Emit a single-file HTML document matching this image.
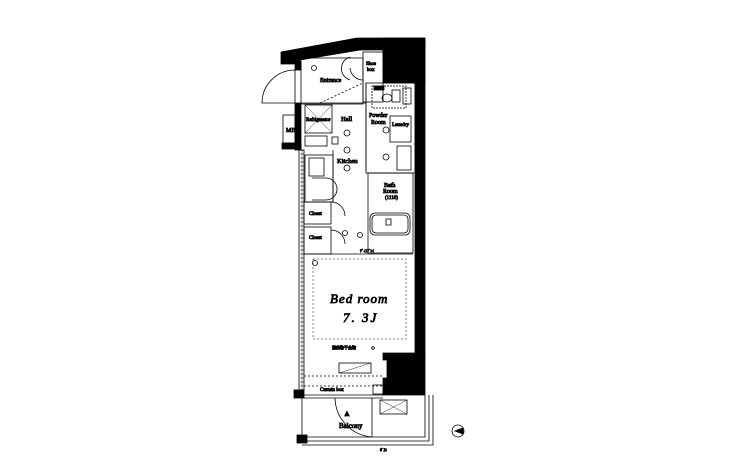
<!DOCTYPE html>
<html><head><meta charset="utf-8"><style>
html,body{margin:0;padding:0;background:#fff}
svg{display:block}
text{font-family:"Liberation Serif",serif;fill:#000}
</style></head><body>
<svg width="730" height="470" viewBox="0 0 730 470" xmlns="http://www.w3.org/2000/svg">
<defs>
<pattern id="hat" width="4" height="4" patternUnits="userSpaceOnUse">
<rect width="4" height="4" fill="#fff"/><circle cx="2" cy="2" r="1.1" fill="none" stroke="#444" stroke-width="0.6"/>
</pattern>
</defs>
<g stroke="#000" fill="none" stroke-width="0.8">
<!-- top wall -->
<polygon points="281,52 357,38 425,38 425,50 360,50 300,60 300,64 281,64" fill="#000"/>
<rect x="383" y="38" width="42" height="45" fill="#000"/>
<!-- right wall -->
<rect x="415" y="40" width="10" height="315" fill="#000"/>
<polygon points="383,353 425,353 425,395 383,395 383,378 387,378 387,360 383,360" fill="#000"/>
<!-- left walls -->
<rect x="295" y="62" width="6" height="8" fill="#000"/>
<rect x="295" y="103" width="6" height="47" fill="#000"/>
<rect x="282" y="143" width="19" height="6" fill="#000"/>
<rect x="299" y="150" width="5" height="240" fill="url(#hat)" stroke="#000"/>
<!-- MB -->
<rect x="283" y="115" width="12" height="28"/>
<text x="286" y="132" font-size="6">MB</text>
<!-- entrance door -->
<path d="M295,70 L295,103 M295,70 A33,33 0 0 0 262,103 L295,103"/>
<!-- entrance -->
<rect x="301" y="58" width="62" height="46"/>
<rect x="363" y="52" width="20" height="50"/>
<text x="366" y="65" font-size="5">Shoe</text><text x="367" y="71" font-size="5">box</text>
<text x="320" y="82" font-size="6">Entrance</text>
<circle cx="314" cy="68" r="2.5"/>
<line x1="320" y1="103" x2="363" y2="83" stroke-dasharray="2,2"/>
<path d="M350,57 A12,12 0 0 0 350,80 M363,80 A13,13 0 0 1 350,68"/>
<!-- fridge -->
<rect x="305" y="105" width="27" height="28"/>
<line x1="305" y1="105" x2="332" y2="133" stroke-width="0.4"/>
<line x1="332" y1="105" x2="305" y2="133" stroke-width="0.4"/>
<text x="306" y="121" font-size="5">Refrigerator</text>
<rect x="305" y="136" width="22" height="10"/><rect x="332" y="137" width="6" height="7"/>
<!-- hall/kitchen -->
<line x1="301" y1="103" x2="366" y2="103"/>
<line x1="366" y1="83" x2="366" y2="170"/>
<text x="341" y="121" font-size="6.5">Hall</text>
<circle cx="347" cy="133" r="3"/><circle cx="347" cy="150" r="3"/><circle cx="347" cy="168" r="3"/>
<text x="337" y="163" font-size="6.5">Kitchen</text>
<!-- kitchen counter -->
<rect x="305" y="155" width="28" height="47"/>
<rect x="309" y="158" width="15" height="18"/>
<path d="M312,178 L326,178 A6,6 0 0 1 326,200 L312,200"/>
<line x1="333" y1="150" x2="333" y2="202"/>
<!-- closets -->
<rect x="304" y="202" width="27" height="22"/><text x="309" y="215" font-size="5">Closet</text>
<rect x="304" y="227" width="27" height="27"/><text x="309" y="239" font-size="5">Closet</text>
<path d="M331,202 A14,14 0 0 1 345,216 M331,230 A14,14 0 0 1 345,244"/>
<circle cx="345" cy="233" r="2.5"/><circle cx="360" cy="235" r="2.5"/>
<!-- powder room -->
<rect x="366" y="83" width="49" height="90"/>
<rect x="372" y="86" width="34" height="22" stroke-dasharray="2,1"/>
<rect x="374" y="86" width="10" height="4" fill="#000"/>
<ellipse cx="387" cy="98" rx="5" ry="4"/>
<rect x="392" y="90" width="8" height="12"/>
<rect x="403" y="88" width="8" height="16"/>
<text x="369" y="117" font-size="6">Powder</text><text x="371" y="124" font-size="6">Room</text>
<circle cx="386" cy="130" r="3"/><circle cx="386" cy="157" r="3"/>
<rect x="390" y="116" width="21" height="26"/>
<text x="392" y="126" font-size="5">Laundry</text>
<rect x="397" y="146" width="14" height="24"/>
<!-- bath -->
<rect x="368" y="173" width="45" height="80"/>
<text x="384" y="187" font-size="6">Bath</text><text x="383" y="193" font-size="6">Room</text><text x="385" y="199" font-size="5">(1116)</text>
<rect x="370" y="213" width="40" height="22" rx="5"/>
<rect x="372" y="215" width="36" height="18" rx="4"/>
<rect x="386" y="219" width="5" height="6"/>
<!-- bedroom -->
<line x1="304" y1="254" x2="413" y2="254"/>
<text x="360" y="252" font-size="3.5">ﾃﾞｨｽﾌﾟﾚｲ</text>
<rect x="313" y="259" width="93" height="80" stroke-dasharray="2,2" stroke-width="0.5"/>
<circle cx="315" cy="263" r="2.5"/>
<text x="330" y="303" font-size="13" font-style="italic" letter-spacing="1">Bed room</text>
<text x="343" y="322" font-size="13" font-style="italic" letter-spacing="2">7. 3J</text>
<text x="332" y="349" font-size="4">室内物干金物</text>
<circle cx="337" cy="348" r="1.3"/><circle cx="373" cy="348" r="1.3"/>
<rect x="339" y="363" width="32" height="10"/>
<line x1="339" y1="373" x2="371" y2="363" stroke-width="0.4"/>
<line x1="304" y1="376" x2="383" y2="376" stroke-dasharray="2,2"/>
<line x1="304" y1="386" x2="383" y2="386" stroke-dasharray="2,2"/>
<text x="320" y="391" font-size="5">Curtain box</text>
<rect x="373" y="385" width="10" height="9"/>
<!-- window line -->
<line x1="304" y1="395" x2="383" y2="395"/>
<line x1="304" y1="398" x2="383" y2="398"/>
<rect x="294" y="390" width="10" height="8" fill="#000"/>
<rect x="297" y="435" width="10" height="8" fill="#000"/>
<!-- balcony -->
<line x1="302" y1="398" x2="302" y2="438"/>
<path d="M335,398 A40,40 0 0 0 372,437 L372,398"/>
<text x="343" y="416" font-size="8">▲</text>
<text x="339" y="428" font-size="7">Balcony</text>
<rect x="380" y="400" width="27" height="14"/>
<line x1="380" y1="414" x2="407" y2="400" stroke-width="0.4"/>
<line x1="380" y1="400" x2="407" y2="414" stroke-width="0.4"/>
<polyline points="302,437 425,437 425,395"/>
<polyline points="302,441 429,441 429,395"/>
<polyline points="302,445 433,445 433,395"/>
<text x="380" y="451" font-size="3.5">ﾎﾟｽﾄ</text>
<!-- compass -->
<circle cx="458" cy="431" r="6"/>
<polygon points="455,431 463,428 463,434" fill="#000"/>
</g>
</svg>
</body></html>
